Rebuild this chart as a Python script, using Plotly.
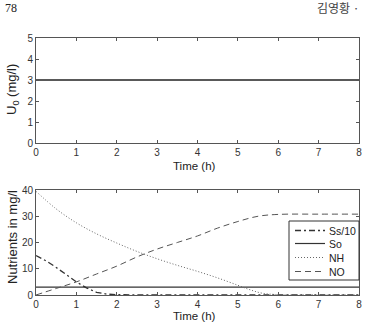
import plotly.graph_objects as go

W, H = 366, 323

# Top panel data
t_u = [0, 8]
u0 = [3, 3]

# Bottom panel data
t_ss = [0, 0.25, 0.5, 0.75, 1.0, 1.25, 1.5, 1.75, 2.0, 3, 4, 5, 6, 7, 8]
ss10 = [15, 13, 10.5, 7.8, 5.0, 2.7, 1.0, 0.35, 0.1, 0.05, 0.05, 0.05, 0.05, 0.05, 0.05]
t_so = [0, 8]
so = [3, 3]
t_nh = [0, 0.5, 1, 1.5, 2, 2.5, 3, 3.5, 4, 4.5, 5, 5.3, 5.6, 6, 7, 8]
nh = [39.5, 32.8, 27.5, 23.3, 19.8, 16.6, 13.8, 11.3, 9.0, 6.5, 3.7, 2.0, 0.7, 0.15, 0.05, 0.05]
t_no = [0, 0.5, 1, 1.5, 2, 2.5, 3, 3.5, 4, 4.5, 5, 5.5, 6, 7, 8]
no = [0, 2.5, 5, 8, 11, 14.5, 17.5, 20, 22.5, 25.5, 28, 30, 30.7, 30.8, 30.8]

series_names = ["Ss/10", "So", "NH", "NO"]

x_ticks = [0, 1, 2, 3, 4, 5, 6, 7, 8]
y_top_ticks = [0, 1, 2, 3, 4, 5]
y_bot_ticks = [0, 10, 20, 30, 40]

styles = {
    "Ss/10": dict(color="#333", width=1.3, dash="6px,3px,2px,3px"),
    "So": dict(color="#333", width=1.2),
    "NH": dict(color="#666", width=1, dash="1px,2px"),
    "NO": dict(color="#555", width=1, dash="6px,4px"),
}

fig = go.Figure()
fig.add_trace(go.Scatter(x=t_u, y=u0, mode="lines", line=dict(color="#222", width=1.5),
                         showlegend=False, xaxis="x", yaxis="y"))
for name, tx, ty, shape in [("Ss/10", t_ss, ss10, "linear"), ("So", t_so, so, "linear"),
                            ("NH", t_nh, nh, "spline"), ("NO", t_no, no, "spline")]:
    fig.add_trace(go.Scatter(x=tx, y=ty, mode="lines", name=name, line_shape=shape,
                             line=styles[name], showlegend=False, xaxis="x2", yaxis="y2"))

xd = [36 / W, 359 / W]
tickfont = dict(family="Liberation Sans, Arial", size=10, color="#333")
axis_common = dict(showgrid=False, zeroline=False, showline=True, linecolor="#555", linewidth=1,
                   mirror="ticks", ticks="inside", ticklen=3, tickcolor="#555",
                   tickfont=tickfont, automargin=False)

def px(x):
    return x / W

def py(y):
    return 1 - y / H

# Manual legend box (pixel layout of the reference)
shapes = [dict(type="rect", xref="paper", yref="paper", x0=px(289), x1=px(359), y0=py(280), y1=py(221),
               line=dict(color="#333", width=1), fillcolor="white", layer="above")]
annotations = []
leg_y = [230.5, 243.5, 257.5, 271.5]
for name, yy in zip(series_names, leg_y):
    st = styles[name]
    shapes.append(dict(type="line", xref="paper", yref="paper", x0=px(295), x1=px(325), y0=py(yy), y1=py(yy),
                       line=dict(color=st["color"], width=st["width"], dash=st.get("dash", "solid")),
                       layer="above"))
    annotations.append(dict(text=name, x=px(327), y=py(yy), xref="paper", yref="paper",
                            xanchor="left", yanchor="middle", showarrow=False,
                            font=dict(family="Liberation Sans, Arial", size=10.5, color="#222")))

titlefont_x = dict(family="Liberation Sans, Arial", size=11.5, color="#222")
titlefont_y = dict(family="Liberation Sans, Arial", size=13, color="#222")

# Axis titles (placed at the reference's pixel positions)
annotations += [
    dict(text="Time (h)", x=px(194), y=py(166), xref="paper", yref="paper", xanchor="center",
         yanchor="middle", showarrow=False, font=titlefont_x),
    dict(text="Time (h)", x=px(194), y=py(323), xref="paper", yref="paper", xanchor="center",
         yanchor="bottom", borderpad=0, showarrow=False, font=titlefont_x),
    dict(text="U<sub>0</sub> (mg/l)", x=px(12), y=py(90), xref="paper", yref="paper", xanchor="center",
         yanchor="middle", textangle=-90, showarrow=False, font=titlefont_y),
    dict(text="Nutrients in mg/l", x=px(12), y=py(237), xref="paper", yref="paper", xanchor="center",
         yanchor="middle", textangle=-90, showarrow=False, font=titlefont_y),
    dict(text="78", x=px(3), y=py(8), xref="paper", yref="paper", xanchor="left", yanchor="middle",
         showarrow=False, font=dict(family="Liberation Serif, Times New Roman", size=12, color="#222")),
    dict(text="김영황 ·", x=px(362), y=py(8), xref="paper", yref="paper", xanchor="right", yanchor="middle",
         showarrow=False, font=dict(family="Noto Sans CJK KR", size=12, color="#444")),
]

fig.update_layout(
    width=W, height=H,
    margin=dict(l=0, r=0, t=0, b=0),
    paper_bgcolor="white", plot_bgcolor="white",
    showlegend=False,
    xaxis=dict(domain=xd, range=[0, 8], tickvals=x_ticks, anchor="y", **axis_common),
    yaxis=dict(domain=[py(143), py(38)], range=[0, 5], tickvals=y_top_ticks, anchor="x", **axis_common),
    xaxis2=dict(domain=xd, range=[0, 8], tickvals=x_ticks, anchor="y2", **axis_common),
    yaxis2=dict(domain=[py(295), py(190)], range=[0, 40], tickvals=y_bot_ticks, anchor="x2", **axis_common),
    shapes=shapes,
    annotations=annotations,
)

fig.write_html("out.html")
